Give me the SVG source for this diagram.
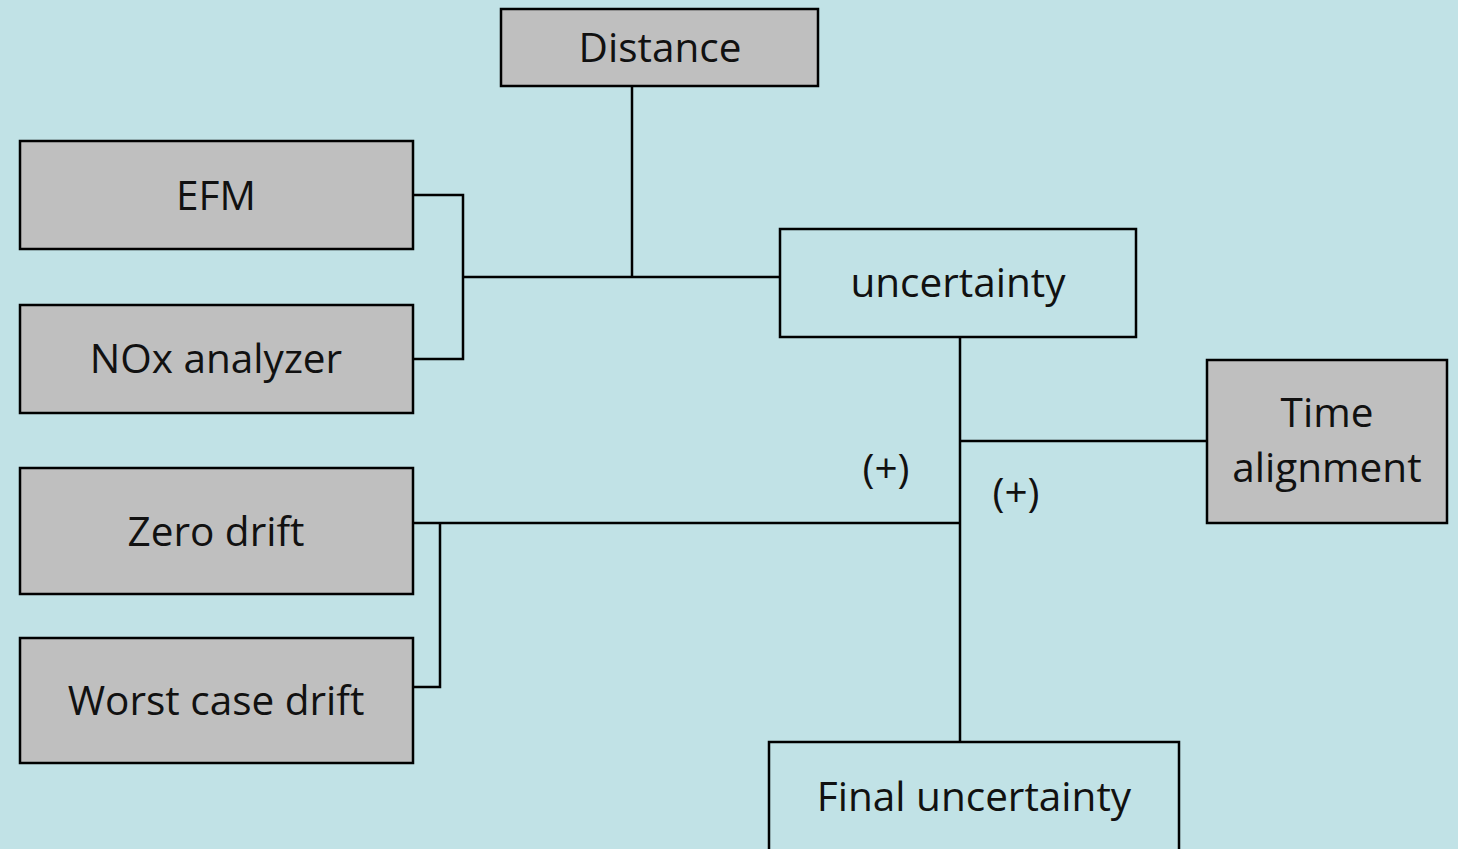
<svg xmlns="http://www.w3.org/2000/svg" width="1458" height="849" viewBox="0 0 1458 849">
<style>
.box{stroke:#000;stroke-width:2.5}
.g{fill:#BFBFBF}
.w{fill:#C1E2E6}
.t{font-family:"Open Sans","Liberation Sans",sans-serif;font-size:40.5px;fill:#111;text-anchor:middle}
.c{fill:none;stroke:#000;stroke-width:2.5}
</style>
<rect width="1458" height="849" fill="#C1E2E6"/>
<g id="connectors">
<path class="c" d="M413 195H463V359H413"/>
<path class="c" d="M463 277H780"/>
<path class="c" d="M632 86V277"/>
<path class="c" d="M960 337V742"/>
<path class="c" d="M960 441H1207"/>
<path class="c" d="M413 523H960"/>
<path class="c" d="M440 523V687H413"/>
<text class="t" x="886" y="483">(+)</text>
<text class="t" x="1016" y="507">(+)</text>
</g>
<g id="distance"><rect class="box g" x="501" y="9" width="317" height="77"/><text class="t" x="660" y="62">Distance</text></g>
<g id="efm"><rect class="box g" x="20" y="141" width="393" height="108"/><text class="t" x="216" y="210">EFM</text></g>
<g id="nox"><rect class="box g" x="20" y="305" width="393" height="108"/><text class="t" x="216" y="373">NOx analyzer</text></g>
<g id="zero"><rect class="box g" x="20" y="468" width="393" height="126"/><text class="t" x="216" y="546">Zero drift</text></g>
<g id="worst"><rect class="box g" x="20" y="638" width="393" height="125"/><text class="t" x="216" y="715">Worst case drift</text></g>
<g id="uncertainty"><rect class="box w" x="780" y="229" width="356" height="108"/><text class="t" x="958" y="297">uncertainty</text></g>
<g id="time"><rect class="box g" x="1207" y="360" width="240" height="163"/><text class="t" x="1327" y="427">Time</text><text class="t" x="1327" y="482">alignment</text></g>
<g id="final"><rect class="box w" x="769" y="742" width="410" height="120"/><text class="t" x="974" y="811">Final uncertainty</text></g>
</svg>
